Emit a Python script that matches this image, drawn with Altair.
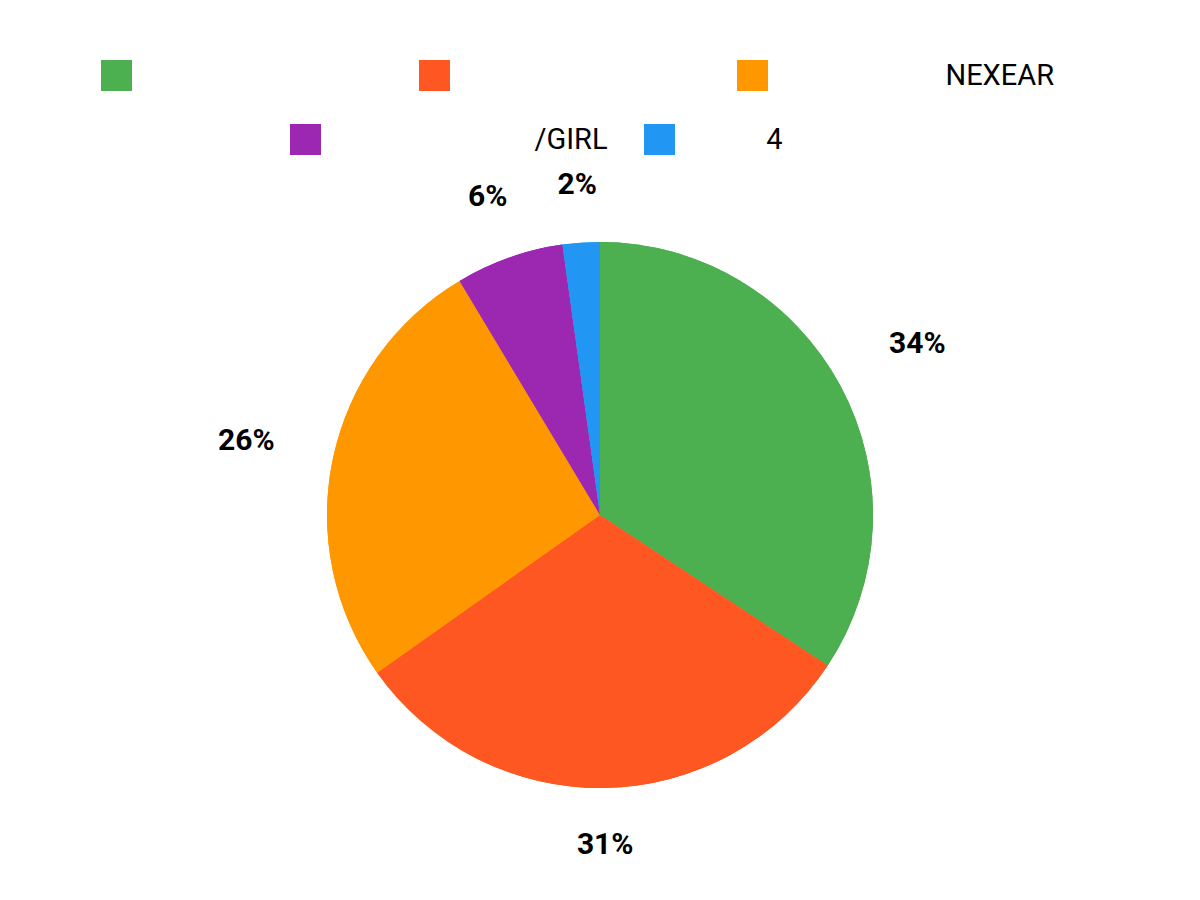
import pandas as pd
import altair as alt

## Slice data (percent of total, clockwise from 12 o'clock)
series_ids = ["s1", "s2", "s3", "s4", "s5"]
shares = [34.3, 30.9, 26.2, 6.4, 2.2]
colors = ["#4caf50", "#ff5722", "#ff9800", "#9c27b0", "#2196f3"]

# legend text: only the latin part is visible in the reference, the rest shows blank
visible_text = ["", "", "NEXEAR", "/GIRL", "4"]
blank_width = [0, 0, 23, 28, 11]  # no-break spaces standing in for the blank text

# vega trims labels, so a zero width space in front keeps the padding
NBSP = "\u00a0"
legend_text = ["\u200b" + NBSP * n + t for n, t in zip(blank_width, visible_text)]

df = pd.DataFrame({
    "id": series_ids,
    "share": shares,
    "order": list(range(len(series_ids))),
})

label_lookup = "{" + ", ".join(f"'{i}': '{t}'" for i, t in zip(series_ids, legend_text)) + "}"

def color_scale():
    return alt.Scale(domain=series_ids, range=colors)

def legend(values, x, y, columns, col_pad):
    return alt.Legend(
        values=values, title=None, orient="none", legendX=x, legendY=y,
        direction="horizontal", columns=columns, gridAlign="all",
        columnPadding=col_pad, padding=0,
        symbolType="square", symbolSize=961, symbolStrokeWidth=0, symbolOpacity=1,
        labelFont="Roboto", labelFontSize=29, labelColor="#000000",
        labelLimit=1000, labelOffset=12,
        labelExpr=label_lookup + "[datum.label]",
    )

base = alt.Chart(df).encode(
    theta=alt.Theta("share:Q", stack=True),
    order=alt.Order("order:Q"),
)

# same arcs drawn twice, so each row of the legend can be placed on its own
pie_top = base.mark_arc(outerRadius=273).encode(
    color=alt.Color("id:N", scale=color_scale(),
                    legend=legend(series_ids[:3], 93, -78, 3, 0)),
)
pie_bottom = base.mark_arc(outerRadius=273).encode(
    color=alt.Color("id:N", scale=color_scale(),
                    legend=legend(series_ids[3:], 282, -14, 2, 36)),
)

# labels sit a little outside the pie, pushed out further where they lie sideways
pct = alt.Chart(df).transform_joinaggregate(
    total="sum(share)"
).transform_window(
    cum="sum(share)", sort=[alt.SortField("order")]
).transform_calculate(
    pct="format(datum.share / datum.total, '.0%')",
    mid="2 * PI * (datum.cum - datum.share / 2) / datum.total",
).transform_calculate(
    r="318 + 14 * length(datum.pct) * abs(sin(datum.mid)) + 11 * abs(cos(datum.mid))"
).mark_text(font="Roboto", fontSize=30, fontWeight="bold", color="#000000").encode(
    text="pct:N",
    theta=alt.Theta("mid:Q", scale=None),
    radius=alt.Radius("r:Q", scale=None),
)

chart = alt.layer(pie_top, pie_bottom, pct).resolve_scale(
    color="independent", theta="independent"
).properties(
    width=1184,
    height=754,
    padding={"top": 130, "left": 0, "right": 0, "bottom": 0},
    autosize=alt.AutoSizeParams(type="none"),
).configure_view(stroke=None)

chart.save("out.html", embed_options={"renderer": "svg", "actions": False})
